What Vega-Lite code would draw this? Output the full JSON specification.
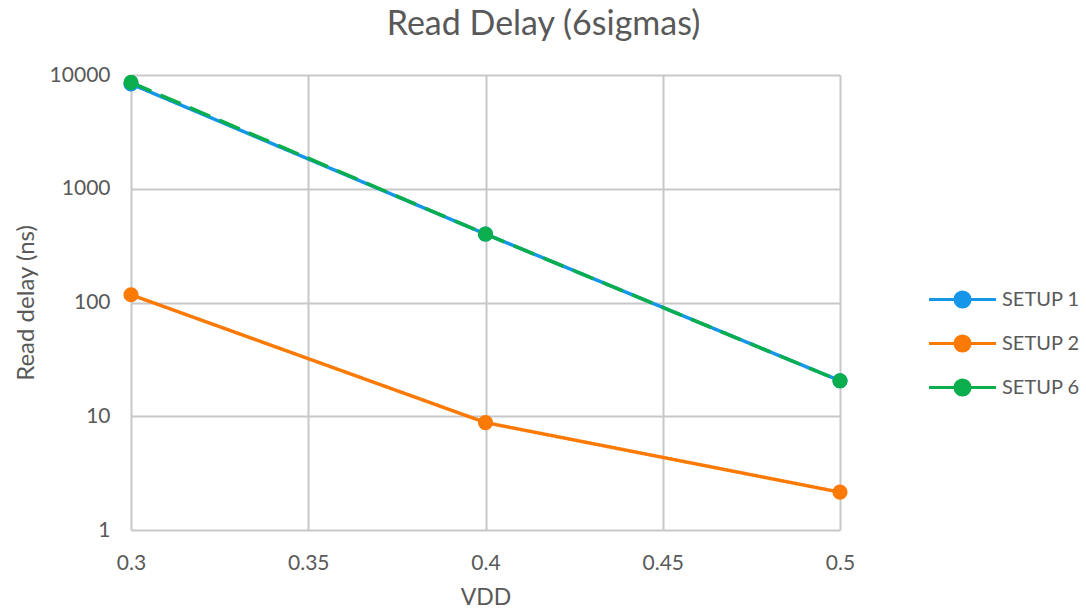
{
  "$schema": "https://vega.github.io/schema/vega-lite/v6.json",
  "width": 709,
  "height": 455,
  "autosize": {"type": "none"},
  "padding": {"left": 131, "top": 75, "right": 246, "bottom": 79},
  "background": "white",
  "config": {
    "font": "Lato",
    "view": {"stroke": null},
    "axis": {
      "labelFont": "Lato",
      "titleFont": "Lato",
      "labelColor": "#595959",
      "titleColor": "#595959",
      "titleFontWeight": "normal",
      "gridColor": "#c8c8c8",
      "gridWidth": 2,
      "domain": false,
      "ticks": false,
      "tickSize": 0,
      "labelFlush": false
    }
  },
  "title": {
    "text": "Read Delay (6sigmas)",
    "font": "Lato",
    "fontSize": 34,
    "fontWeight": "normal",
    "color": "#595959",
    "anchor": "middle",
    "frame": "group",
    "dx": 58,
    "dy": 43,
    "baseline": "alphabetic",
    "offset": 38
  },
  "data": {
    "values": [
      {"vdd": 0.3, "delay": 8350, "series": "SETUP 1"},
      {"vdd": 0.4, "delay": 400, "series": "SETUP 1"},
      {"vdd": 0.5, "delay": 20.5, "series": "SETUP 1"},
      {"vdd": 0.3, "delay": 117, "series": "SETUP 2"},
      {"vdd": 0.4, "delay": 8.8, "series": "SETUP 2"},
      {"vdd": 0.5, "delay": 2.15, "series": "SETUP 2"},
      {"vdd": 0.3, "delay": 8600, "series": "SETUP 6"},
      {"vdd": 0.4, "delay": 400, "series": "SETUP 6"},
      {"vdd": 0.5, "delay": 20.5, "series": "SETUP 6"}
    ]
  },
  "encoding": {
    "x": {
      "field": "vdd",
      "type": "quantitative",
      "title": "VDD",
      "scale": {"domain": [0.3, 0.5], "nice": false, "zero": false},
      "axis": {
        "values": [0.3, 0.35, 0.4, 0.45, 0.5],
        "labelFontSize": 21,
        "labelPadding": 22,
        "titleFontSize": 23,
        "titlePadding": 13,
        "labelExpr": "datum.value == 0.3 ? '0.3' : datum.value == 0.4 ? '0.4' : datum.value == 0.5 ? '0.5' : format(datum.value, '.2f')"
      }
    },
    "y": {
      "field": "delay",
      "type": "quantitative",
      "title": "Read delay (ns)",
      "scale": {"type": "log", "domain": [1, 10000], "nice": false},
      "axis": {
        "values": [1, 10, 100, 1000, 10000],
        "format": "d",
        "labelFontSize": 21,
        "labelPadding": 21,
        "titleFontSize": 24,
        "titlePadding": 11
      }
    },
    "color": {
      "field": "series",
      "type": "nominal",
      "scale": {
        "domain": ["SETUP 1", "SETUP 2", "SETUP 6"],
        "range": ["#1696e8", "#fb7a05", "#0aae4c"]
      },
      "legend": {
        "title": null,
        "orient": "none",
        "legendX": 813,
        "legendY": 206,
        "labelFont": "Lato",
        "labelFontSize": 20,
        "labelColor": "#595959",
        "symbolSize": 1122,
        "symbolStrokeWidth": 3,
        "rowPadding": 11,
        "labelOffset": 21,
        "symbolType": "M-2,0L2,0M0.45,0A0.45,0.45,0,1,1,-0.45,0A0.45,0.45,0,1,1,0.45,0Z",
        "encode": {
          "symbols": {
            "update": {
              "fill": {"scale": "color", "field": "value"},
              "stroke": {"scale": "color", "field": "value"},
              "opacity": {"value": 1}
            }
          }
        }
      }
    }
  },
  "layer": [
    {
      "mark": {"type": "line", "strokeWidth": 3.5},
      "encoding": {
        "strokeDash": {
          "condition": {"test": "datum.series == 'SETUP 6'", "value": [22, 10]},
          "value": [1, 0]
        }
      }
    },
    {
      "mark": {"type": "point", "filled": true, "size": 230, "opacity": 1}
    }
  ]
}
